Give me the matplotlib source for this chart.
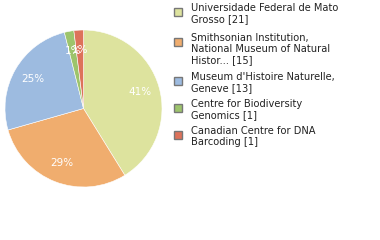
import matplotlib.pyplot as plt
import matplotlib.patches as mpatches
import numpy as np

labels = ['Universidade Federal de Mato\nGrosso [21]',
          'Smithsonian Institution,\nNational Museum of Natural\nHistor... [15]',
          "Museum d'Histoire Naturelle,\nGeneve [13]",
          'Centre for Biodiversity\nGenomics [1]',
          'Canadian Centre for DNA\nBarcoding [1]']
counts = [21, 15, 13, 1, 1]
colors = ['#dde39e', '#f0ad6e', '#9dbbe0', '#9dc46c', '#dd725a']

W, H = 380, 240
fig = plt.figure(figsize=(W / 100, H / 100), dpi=100)

# pie
ax = fig.add_axes([5 / W, (H - 187) / H, 157 / W, 157 / H])
total = sum(counts)
wedges, _ = ax.pie(counts, colors=colors, startangle=90, counterclock=False,
                   radius=1, wedgeprops=dict(linewidth=0.4, edgecolor='white'))
for w, c in zip(wedges, counts):
    ang = np.deg2rad((w.theta1 + w.theta2) / 2)
    r = 0.75
    ax.text(r * np.cos(ang), r * np.sin(ang), '%d%%' % int(100 * c / total),
            color='white', ha='center', va='center', fontsize=7.5)
ax.set_xlim(-1, 1)
ax.set_ylim(-1, 1)
ax.set_aspect('equal')
ax.axis('off')

# legend
tops = [8, 38, 77, 104, 131]
for lab, col, t in zip(labels, colors, tops):
    fig.patches.append(mpatches.Rectangle((174 / W, 1 - (t + 8) / H), 8 / W, 8 / H,
                                          transform=fig.transFigure, facecolor=col,
                                          edgecolor='#777777', linewidth=1.0))
    fig.text(191 / W, 1 - (t - 5) / H, lab, fontsize=7.1, va='top', ha='left',
             color='#222222', linespacing=1.15)

fig.savefig('out.png', dpi=100)
